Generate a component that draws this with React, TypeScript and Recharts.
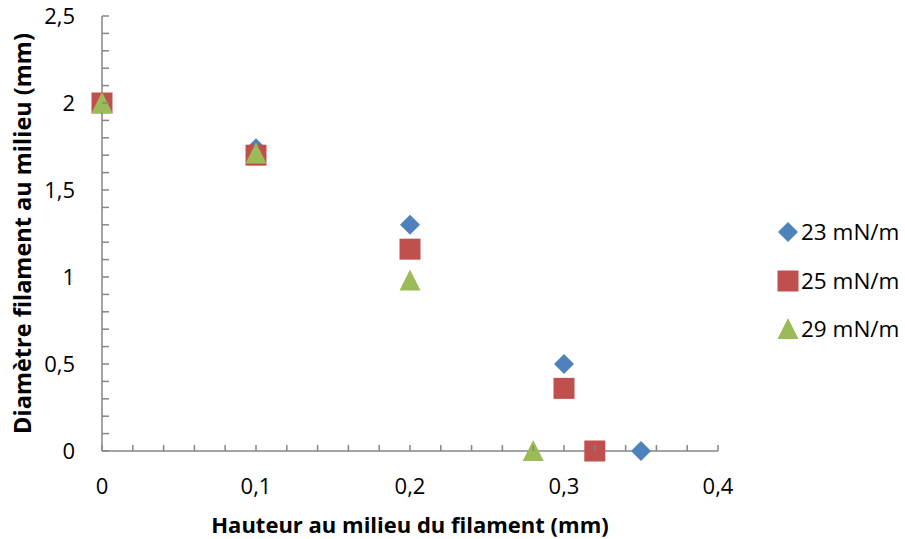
import React from 'react';
import { ScatterChart, Scatter, XAxis, YAxis, Legend, Label } from 'recharts';

// Hauteur (mm) / Diamètre (mm)
const hauteur23 = [0, 0.1, 0.2, 0.3, 0.35];
const diametre23 = [2, 1.74, 1.3, 0.5, 0];
const hauteur25 = [0, 0.1, 0.2, 0.3, 0.32];
const diametre25 = [2, 1.7, 1.16, 0.36, 0];
const hauteur29 = [0, 0.1, 0.2, 0.28];
const diametre29 = [2, 1.71, 0.98, 0];

const seriesNames = ['23 mN/m', '25 mN/m', '29 mN/m'];
const seriesColors = ['#4F81BD', '#C0504D', '#9BBB59'];

const xMajorTicks = [0, 0.1, 0.2, 0.3, 0.4];
const yMajorTicks = [0, 0.5, 1, 1.5, 2, 2.5];
const xMinorStep = 0.02;
const yMinorStep = 0.1;

const FONT = '"Open Sans", sans-serif';
const AXIS_COLOR = '#868686';

const toPoints = (xs: number[], ys: number[]) => xs.map((x, i) => ({ x, y: ys[i] }));

const data23 = toPoints(hauteur23, diametre23);
const data25 = toPoints(hauteur25, diametre25);
const data29 = toPoints(hauteur29, diametre29);

const steps = (max: number, step: number) =>
  Array.from({ length: Math.round(max / step) + 1 }, (_, i) => +(i * step).toFixed(4));

const xTicks = steps(0.4, xMinorStep);
const yTicks = steps(2.5, yMinorStep);

const isMajor = (v: number, majors: number[]) => majors.some((m) => Math.abs(m - v) < 1e-6);
const fmt = (v: number) => String(v).replace('.', ',');

function Diamond({ cx, cy, fill }: any) {
  return <polygon points={`${cx},${cy - 10} ${cx + 10},${cy} ${cx},${cy + 10} ${cx - 10},${cy}`} fill={fill} />;
}

function Square({ cx, cy, fill }: any) {
  return <rect x={cx - 10.5} y={cy - 10.5} width={21} height={21} fill={fill} />;
}

function Triangle({ cx, cy, fill }: any) {
  return <polygon points={`${cx},${cy - 11} ${cx + 10.5},${cy + 10} ${cx - 10.5},${cy + 10}`} fill={fill} />;
}

const shapes = [Diamond, Square, Triangle];

function XTick({ x, y, payload }: any) {
  const major = isMajor(payload.value, xMajorTicks);
  return (
    <g>
      <line x1={x} x2={x} y1={y} y2={y - 6} stroke={AXIS_COLOR} strokeWidth={1.5} />
      {major && (
        <text x={x} y={y + 35} dy="0.35em" textAnchor="middle" fontFamily={FONT} fontSize={22} fill="#000">
          {fmt(payload.value)}
        </text>
      )}
    </g>
  );
}

function YTick({ x, y, payload }: any) {
  const major = isMajor(payload.value, yMajorTicks);
  return (
    <g>
      <line x1={x} x2={x + 7} y1={y} y2={y} stroke={AXIS_COLOR} strokeWidth={1.5} />
      {major && (
        <text x={x - 27} y={y} dy="0.35em" textAnchor="end" fontFamily={FONT} fontSize={22} fill="#000">
          {fmt(payload.value)}
        </text>
      )}
    </g>
  );
}

function LegendContent() {
  return (
    <div style={{ fontFamily: FONT, fontSize: 22.5, color: '#000' }}>
      {seriesNames.map((name, i) => {
        const Shape = shapes[i];
        return (
          <div key={name} style={{ display: 'flex', alignItems: 'center', height: 48.5, whiteSpace: 'nowrap' }}>
            <svg width={22} height={22} style={{ marginRight: 2, flexShrink: 0 }}>
              <Shape cx={11} cy={11} fill={seriesColors[i]} />
            </svg>
            <span style={{ lineHeight: '22px' }}>{name}</span>
          </div>
        );
      })}
    </div>
  );
}

export default function App() {
  return (
    <div style={{ position: 'absolute', left: 0, top: 0, width: 905, height: 539, background: '#fff' }}>
      <ScatterChart width={905} height={539} margin={{ top: 16, right: 187, bottom: 0, left: 0 }}>
        <XAxis
          type="number"
          dataKey="x"
          domain={[0, 0.4]}
          ticks={xTicks}
          interval={0}
          height={88}
          tickSize={0}
          tickMargin={0}
          tickLine={false}
          axisLine={{ stroke: AXIS_COLOR, strokeWidth: 1.5 }}
          tick={<XTick />}
        >
          <Label
            value="Hauteur au milieu du filament (mm)"
            position="insideBottom"
            offset={6}
            style={{ fontFamily: FONT, fontSize: 22, fontWeight: 700, fill: '#000' }}
          />
        </XAxis>
        <YAxis
          type="number"
          dataKey="y"
          domain={[0, 2.5]}
          ticks={yTicks}
          interval={0}
          width={102}
          tickSize={0}
          tickMargin={0}
          tickLine={false}
          axisLine={{ stroke: AXIS_COLOR, strokeWidth: 1.5 }}
          tick={<YTick />}
        >
          <Label
            value="Diamètre filament au milieu (mm)"
            angle={-90}
            position="insideLeft"
            offset={23}
            style={{ fontFamily: FONT, fontSize: 23.5, fontWeight: 700, fill: '#000', textAnchor: 'middle' }}
          />
        </YAxis>
        <Legend
          layout="vertical"
          align="center"
          verticalAlign="middle"
          wrapperStyle={{ left: 777, top: 208, width: 128 }}
          content={<LegendContent />}
        />
        <Scatter name={seriesNames[0]} data={data23} fill={seriesColors[0]} shape={<Diamond />} isAnimationActive={false} />
        <Scatter name={seriesNames[1]} data={data25} fill={seriesColors[1]} shape={<Square />} isAnimationActive={false} />
        <Scatter name={seriesNames[2]} data={data29} fill={seriesColors[2]} shape={<Triangle />} isAnimationActive={false} />
      </ScatterChart>
    </div>
  );
}
